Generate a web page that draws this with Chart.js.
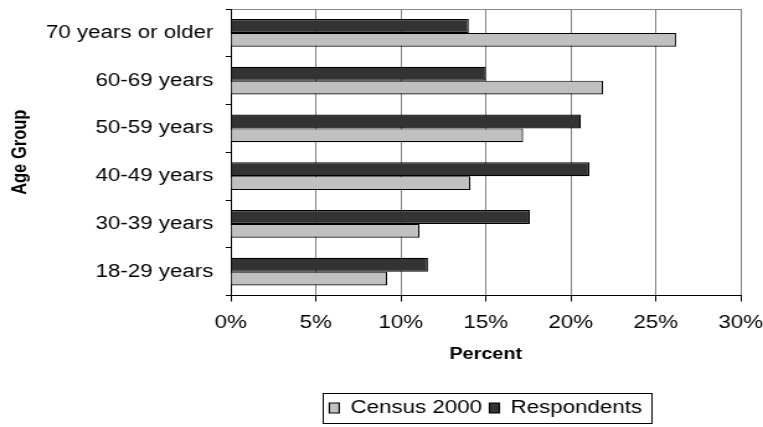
<!DOCTYPE html>
<html>
<head>
<meta charset="utf-8">
<script src="https://cdn.jsdelivr.net/npm/chart.js@4"></script>
<style>
    html, body { margin: 0; padding: 0; background: #fff; overflow: hidden; }
    /* the reference is stretched sideways, so draw narrow and widen the whole canvas */
    #wrap { width: 615px; height: 427px; transform: scaleX(1.2407); transform-origin: 0 0; }
</style>
</head>
<body>
<div id="wrap"><canvas id="ageChart" width="615" height="427"></canvas></div>
<script>
// Age groups, top to bottom
const ageGroups = ['70 years or older', '60-69 years', '50-59 years', '40-49 years', '30-39 years', '18-29 years'];
// Percent of each group
const respondents = [14.0, 15.0, 20.6, 21.1, 17.6, 11.6];
const census2000 = [26.2, 21.9, 17.2, 14.1, 11.1, 9.2];
const percentTicks = [0, 5, 10, 15, 20, 25, 30];

document.addEventListener('DOMContentLoaded', function () {
    const ctx = document.getElementById('ageChart').getContext('2d');
    const fontFamily = "'Liberation Sans', Arial, sans-serif";

    Chart.defaults.color = '#000';
    Chart.defaults.font.family = fontFamily;

    // Draw the box round the legend
    const legendFrame = {
        id: 'legendFrame',
        afterDraw(chart) {
            const boxes = chart.legend.legendHitBoxes;
            if (!boxes || !boxes.length) return;
            const first = boxes[0];
            const last = boxes[boxes.length - 1];
            const c = chart.ctx;
            const midY = first.top + first.height / 2;
            c.save();
            c.strokeStyle = '#000';
            c.lineWidth = 1;
            c.strokeRect(Math.round(first.left - 5) + 0.5, Math.round(midY - 15) + 0.5,
                Math.round(last.left + last.width + 8 - (first.left - 5)), 30);
            c.restore();
        }
    };

    new Chart(ctx, {
        type: 'bar',
        data: {
            labels: ageGroups,
            datasets: [{
                label: 'Respondents',
                data: respondents,
                backgroundColor: '#333333',
                borderColor: '#000',
                borderWidth: 1.2
            }, {
                label: 'Census 2000',
                data: census2000,
                backgroundColor: '#c0c0c0',
                borderColor: '#000',
                borderWidth: 1.2
            }]
        },
        options: {
            indexAxis: 'y',
            responsive: false,
            animation: false,
            layout: {
                padding: { top: 9, right: 0, bottom: 0, left: 0 }
            },
            datasets: {
                bar: {
                    categoryPercentage: 0.58,
                    barPercentage: 1.0
                }
            },
            scales: {
                x: {
                    min: 0,
                    max: 30,
                    afterBuildTicks: scale => {
                        scale.ticks = percentTicks.map(v => ({ value: v }));
                    },
                    afterFit: scale => {
                        scale.height = 97.5;
                        scale.paddingLeft = 0;
                        scale.paddingRight = 18;
                    },
                    ticks: {
                        padding: 11,
                        font: { size: 18 },
                        callback: value => value + '%'
                    },
                    grid: {
                        color: '#7f7f7f',
                        tickColor: '#000',
                        tickLength: 6
                    },
                    border: { color: '#000', width: 1 },
                    title: {
                        display: true,
                        text: 'Percent',
                        font: { size: 16, weight: 'bold' },
                        padding: { top: 4, bottom: 29 }
                    }
                },
                y: {
                    afterFit: scale => {
                        scale.width = 186;
                        scale.paddingTop = 0;
                        scale.paddingBottom = 0;
                    },
                    ticks: {
                        padding: 10,
                        font: { size: 18 }
                    },
                    grid: {
                        offset: true,
                        color: c => c.index === 0 ? '#888' : 'rgba(0,0,0,0)',
                        tickColor: '#000',
                        tickLength: 4
                    },
                    border: { color: '#000', width: 1 },
                    title: {
                        display: true,
                        text: 'Age Group',
                        font: { size: 16.5, weight: 'bold' },
                        padding: { top: 7, bottom: 4 }
                    }
                }
            },
            plugins: {
                legend: {
                    position: 'bottom',
                    fullSize: false,
                    reverse: true,
                    labels: {
                        boxWidth: 8,
                        boxHeight: 10,
                        padding: 6,
                        font: { size: 18 }
                    }
                },
                tooltip: { enabled: false }
            }
        },
        plugins: [legendFrame]
    });
});
</script>
</body>
</html>
